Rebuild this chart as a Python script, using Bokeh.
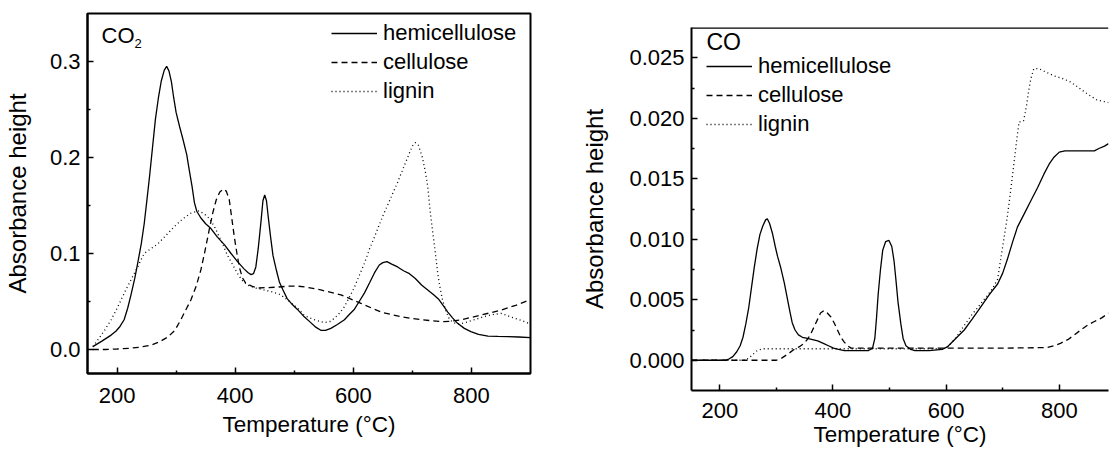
from bokeh.plotting import figure
from bokeh.layouts import row
from bokeh.models import FixedTicker, PrintfTickFormatter, Legend, LegendItem, Label, Span, Range1d
from bokeh.embed import file_html
from bokeh.resources import INLINE

FONT = "Liberation Sans"

# ---------------- CO2 panel data ----------------
co2_hemi_T = [159, 175, 190, 198, 205, 212, 218, 224, 230, 235, 241, 246, 251, 255, 260, 265, 270, 275, 280, 284,
              288, 292, 296, 300, 306, 312, 318, 322, 327, 331, 335, 342, 350, 359, 370, 382, 393, 404, 415, 422,
              427, 431, 435, 439, 444, 447, 450, 453, 456, 460, 464, 470, 475, 481, 488, 495, 505, 517, 528, 537,
              545, 553, 562, 573, 585, 594, 602, 610, 619, 628, 636, 644, 650, 657, 665, 675, 685, 695, 705, 716,
              726, 736, 745, 752, 760, 768, 777, 788, 799, 812, 828, 845, 862, 880, 900]
co2_hemi_v = [0.003, 0.009, 0.015, 0.019, 0.024, 0.031, 0.043, 0.058, 0.074, 0.09, 0.11, 0.131, 0.158, 0.18, 0.21,
              0.24, 0.262, 0.28, 0.291, 0.295, 0.29, 0.279, 0.262, 0.247, 0.232, 0.218, 0.203, 0.188, 0.17, 0.153,
              0.144, 0.137, 0.131, 0.126, 0.117, 0.109, 0.1, 0.0915, 0.084, 0.08, 0.078, 0.079, 0.086, 0.105, 0.135,
              0.155, 0.161, 0.155, 0.138, 0.117, 0.098, 0.082, 0.07, 0.062, 0.053, 0.048, 0.042, 0.034, 0.028, 0.023,
              0.020, 0.020, 0.022, 0.026, 0.031, 0.037, 0.042, 0.05, 0.059, 0.07, 0.08, 0.088, 0.0905, 0.0915, 0.089,
              0.086, 0.082, 0.079, 0.074, 0.067, 0.062, 0.057, 0.052, 0.046, 0.039, 0.033, 0.027, 0.022, 0.0186,
              0.0158, 0.014, 0.0136, 0.0134, 0.013, 0.0123]

co2_cell_T = [159, 180, 200, 220, 240, 258, 272, 286, 298, 308, 317, 325, 334, 342, 349, 356, 362, 368, 374, 380,
              385, 390, 394, 398.5, 403, 407, 412, 418, 428, 438, 455, 472, 490, 506, 520, 545, 579, 613, 647, 681,
              715, 749, 766, 783, 800, 817, 850, 875, 900]
co2_cell_v = [0.0, 0.0, 0.0005, 0.0012, 0.0025, 0.0045, 0.008, 0.013, 0.02, 0.031, 0.042, 0.0515, 0.066, 0.083,
              0.103, 0.1245, 0.142, 0.156, 0.164, 0.167, 0.165, 0.156, 0.138, 0.1175, 0.1, 0.086, 0.075, 0.069,
              0.066, 0.064, 0.0645, 0.065, 0.066, 0.066, 0.065, 0.062, 0.057, 0.048, 0.039, 0.034, 0.031, 0.029,
              0.0295, 0.031, 0.0335, 0.036, 0.041, 0.046, 0.052]

co2_lig_T = [159, 170, 180, 190, 201, 212, 224, 235, 241, 246, 255, 269, 283, 297, 311, 325, 339, 348, 356, 365,
             373, 380, 387, 396, 404, 412, 421, 435, 449, 463, 477, 492, 506, 517, 526, 534, 551, 560, 568, 577,
             585, 593, 602, 610, 619, 627, 636, 644, 652, 660, 667, 675, 684, 692, 700, 705, 710, 717, 722, 726,
             730, 734, 739, 743, 747, 751, 757, 763, 770, 777, 790, 805, 820, 833, 850, 862, 873, 886, 898]
co2_lig_v = [0.003, 0.012, 0.021, 0.031, 0.044, 0.0585, 0.073, 0.086, 0.094, 0.1, 0.104, 0.11, 0.119, 0.128, 0.136,
             0.142, 0.1445, 0.141, 0.1366, 0.128, 0.1175, 0.108, 0.098, 0.088, 0.079, 0.072, 0.067, 0.064, 0.062,
             0.06, 0.057, 0.05, 0.043, 0.0355, 0.033, 0.031, 0.028, 0.029, 0.0325, 0.038, 0.0446, 0.054, 0.065,
             0.077, 0.09, 0.104, 0.1175, 0.13, 0.142, 0.153, 0.163, 0.174, 0.188, 0.2, 0.212, 0.2155, 0.213, 0.2,
             0.185, 0.17, 0.145, 0.1245, 0.1, 0.079, 0.064, 0.0516, 0.04, 0.031, 0.028, 0.0265, 0.028, 0.031, 0.034,
             0.036, 0.0377, 0.035, 0.0325, 0.03, 0.027]

# ---------------- CO panel data ----------------
co_hemi_T = [150, 209, 216, 223, 230, 236, 241, 246, 251, 256, 261, 266, 271, 276, 281, 284, 288, 293, 298, 302,
             308, 314, 319, 324, 328, 333, 339, 346, 355, 364, 373, 383, 392, 401, 410, 420, 440, 463, 470, 474,
             477, 480, 484, 488, 493, 499, 504, 508, 511, 515, 520, 524, 529, 537, 545, 570, 593, 602, 617, 632,
             646, 661, 676, 691, 700, 708, 717, 726, 738, 750, 762, 773, 782, 791, 800, 810, 830, 850, 862, 870,
             880, 887]
co_hemi_v = [0, 0, 0.0001, 0.0003, 0.0007, 0.0012, 0.0019, 0.003, 0.0043, 0.006, 0.0077, 0.0092, 0.0104, 0.0111,
             0.0116, 0.0117, 0.0113, 0.0105, 0.0094, 0.0086, 0.0076, 0.0064, 0.0052, 0.004, 0.0031, 0.0025, 0.0021,
             0.0019, 0.0018, 0.0017, 0.0016, 0.0014, 0.0012, 0.001, 0.0009, 0.0008, 0.0008, 0.0008, 0.001, 0.0018,
             0.0035, 0.0055, 0.0075, 0.0091, 0.0098, 0.0099, 0.0094, 0.0082, 0.0068, 0.0048, 0.003, 0.0018, 0.0012,
             0.0009, 0.0008, 0.0008, 0.0009, 0.0011, 0.0018, 0.0025, 0.0034, 0.0044, 0.0054, 0.0063, 0.0072, 0.0083,
             0.0097, 0.011, 0.0121, 0.0132, 0.0143, 0.0154, 0.0162, 0.0168, 0.0172, 0.0173, 0.0173, 0.0173, 0.0173,
             0.0175, 0.0177, 0.0179]

co_cell_T = [150, 300, 310, 320, 331, 340, 349, 356, 361, 367, 373, 378, 384, 390, 396, 402, 408, 414, 420, 426,
             432, 450, 600, 700, 779, 791, 802, 815, 827, 838, 850, 862, 875, 887]
co_cell_v = [0, 0, 0.0002, 0.0005, 0.00088, 0.0011, 0.0014, 0.0018, 0.0022, 0.0028, 0.0034, 0.0039, 0.0041, 0.0039,
             0.0036, 0.0031, 0.0025, 0.0019, 0.0015, 0.0012, 0.001, 0.001, 0.001, 0.001, 0.00105, 0.0012, 0.0014,
             0.0017, 0.0021, 0.0025, 0.0029, 0.0032, 0.0035, 0.0039]

co_lig_T = [150, 245, 252, 259, 266, 275, 400, 500, 590, 600, 609, 618, 628, 637, 646, 655, 665, 674, 683, 691,
            697, 703, 708, 714, 720, 725, 729, 733, 737, 742, 746, 750, 755, 764, 777, 791, 805, 820, 835, 850,
            867, 887]
co_lig_v = [0, 0, 0.0002, 0.0005, 0.0008, 0.00095, 0.00095, 0.00095, 0.00095, 0.001, 0.0014, 0.0019, 0.0026, 0.0032,
            0.0038, 0.0043, 0.0049, 0.0054, 0.006, 0.0067, 0.0085, 0.0103, 0.0118, 0.014, 0.0163, 0.0183, 0.0197,
            0.0197, 0.0198, 0.021, 0.0223, 0.0233, 0.0241, 0.0241, 0.0238, 0.0235, 0.0233, 0.023, 0.0225, 0.022,
            0.0215, 0.0213]

series_names = ["hemicellulose", "cellulose", "lignin"]
x_major = [200, 400, 600, 800]
x_minor = [300, 500, 700]
co2_y_major = [0.0, 0.1, 0.2, 0.3]
co2_y_minor = [0.05, 0.15, 0.25]
co_y_major = [0.0, 0.005, 0.010, 0.015, 0.020, 0.025]
co_y_minor = [0.0025, 0.0075, 0.0125, 0.0175, 0.0225]
x_title = "Temperature (°C)"
y_title = "Absorbance height"

DASHES = ["solid", "6 4", "1 3"]


def style_axes(p, ymaj, ymin, yfmt, x_standoff, xlab_standoff, ylab_standoff):
    p.xaxis[0].ticker = FixedTicker(ticks=x_major, minor_ticks=x_minor)
    p.yaxis[0].ticker = FixedTicker(ticks=ymaj, minor_ticks=ymin)
    p.xaxis[0].formatter = PrintfTickFormatter(format="%d")
    p.yaxis[0].formatter = PrintfTickFormatter(format=yfmt)
    for ax in (p.xaxis[0], p.yaxis[0]):
        ax.axis_line_width = 2
        ax.axis_line_color = "black"
        ax.major_tick_in = 6
        ax.major_tick_out = 0
        ax.minor_tick_in = 3
        ax.minor_tick_out = 0
        ax.major_tick_line_width = 1.5
        ax.minor_tick_line_width = 1.5
        ax.major_tick_line_color = "black"
        ax.minor_tick_line_color = "black"
        ax.major_label_text_font = FONT
        ax.major_label_text_font_size = "22px"
        ax.major_label_text_color = "black"
        ax.major_label_standoff = 7
        ax.axis_label_text_font = FONT
        ax.axis_label_text_font_style = "normal"
        ax.axis_label_text_color = "black"
    p.xaxis[0].axis_label = x_title
    p.xaxis[0].axis_label_text_font_size = "22.5px"
    p.xaxis[0].major_label_standoff = x_standoff
    p.xaxis[0].axis_label_standoff = xlab_standoff
    p.yaxis[0].axis_label = y_title
    p.yaxis[0].axis_label_text_font_size = "24px"
    p.yaxis[0].axis_label_standoff = ylab_standoff
    p.xgrid.visible = False
    p.ygrid.visible = False


def add_legend(p, renderers, loc):
    items = [LegendItem(label=n, renderers=[r]) for n, r in zip(series_names, renderers)]
    lg = Legend(items=items, location=loc, orientation="vertical", border_line_color=None,
                background_fill_alpha=0, padding=0, margin=0, spacing=3, glyph_width=46,
                glyph_height=20, label_height=20, label_standoff=6, label_text_font=FONT,
                label_text_font_size="22px", label_text_color="black")
    p.add_layout(lg)


def add_text(p, x, y, text, size, align="left"):
    p.add_layout(Label(x=x, y=y, x_units="screen", y_units="screen", text=text, text_font=FONT,
                       text_font_size=size, text_color="black", text_baseline="middle",
                       text_align=align))


# ---------------- Left figure (CO2) ----------------
p1 = figure(width=568, height=450, output_backend="svg", toolbar_location=None,
            x_range=Range1d(150, 900), y_range=Range1d(-0.025, 0.35),
            min_border_left=87, min_border_right=38, min_border_top=13, min_border_bottom=77)
p1.frame_align = False
p1.outline_line_color = "black"
p1.outline_line_width = 2
p1.background_fill_color = "white"
p1.border_fill_color = "white"
style_axes(p1, co2_y_major, co2_y_minor, "%.1f", 14, 6, 16)

r = []
for T, v, d in zip([co2_hemi_T, co2_cell_T, co2_lig_T], [co2_hemi_v, co2_cell_v, co2_lig_v], DASHES):
    r.append(p1.line(T, v, line_color="black", line_width=1.3, line_dash=d))
add_legend(p1, r, (244, 269))

add_text(p1, 14, 338, "CO", "22px")
add_text(p1, 47, 330, "2", "13px")

# ---------------- Right figure (CO) ----------------
p2 = figure(width=541, height=450, output_backend="svg", toolbar_location=None,
            x_range=Range1d(150, 887), y_range=Range1d(-0.0025, 0.0275),
            min_border_left=123, min_border_right=1, min_border_top=27, min_border_bottom=60)
p2.frame_align = False
p2.outline_line_color = None
p2.background_fill_color = "white"
p2.border_fill_color = "white"
style_axes(p2, co_y_major, co_y_minor, "%.3f", 12, 1, 18)
p2.add_layout(Span(location=p2.y_range.end, dimension="width", line_color="black", line_width=2.5))

r2 = []
for T, v, d in zip([co_hemi_T, co_cell_T, co_lig_T], [co_hemi_v, co_cell_v, co_lig_v], DASHES):
    r2.append(p2.line(T, v, line_color="black", line_width=1.3, line_dash=d))
add_legend(p2, r2, (15, 253))

add_text(p2, 15, 349, "CO", "23px")

layout = row(p1, p2)
open("out.html", "w").write(file_html(layout, INLINE))
